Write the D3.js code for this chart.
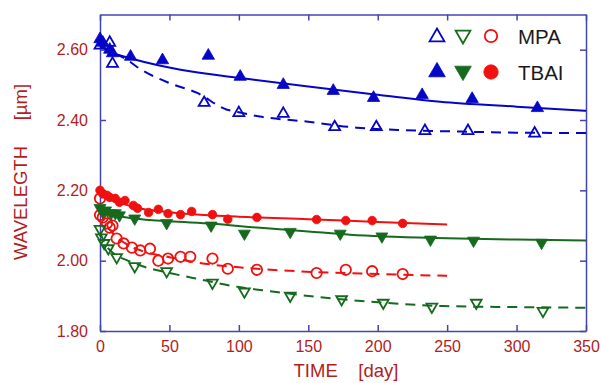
<!DOCTYPE html>
<html>
<head>
<meta charset="utf-8">
<script src="https://cdn.jsdelivr.net/npm/d3@7"></script>
<style>
  html, body { margin: 0; padding: 0; background: #fff; }
  svg { display: block; font-family: Arial, "Liberation Sans", sans-serif; }
</style>
</head>
<body>
<svg id="chart" width="601" height="383"></svg>
<script>
// Emission wavelength vs storage time, [day, µm]

// MPA-treated samples (open markers, dashed fits)
const mpaBlue = [[0,2.612],[7,2.62],[9,2.56],[75,2.449],[100,2.42],[132,2.418],[169,2.38],[199,2.38],[234,2.369],[265,2.369],[313,2.362]];
const mpaGreen = [[0,2.09],[1,2.066],[3,2.05],[6,2.035],[12,2.01],[25,1.984],[48,1.97],[81,1.937],[104,1.912],[137,1.9],[174,1.89],[204,1.88],[239,1.869],[271,1.88],[319,1.857]];
const mpaRed = [[0,2.177],[0,2.13],[2,2.123],[5,2.106],[7,2.094],[9,2.1],[12,2.063],[17,2.049],[23,2.037],[29,2.029],[36,2.034],[42,2.0],[49,2.006],[58,2.011],[65,2.011],[81,2.006],[92,1.977],[113,1.974],[156,1.965],[177,1.974],[196,1.97],[218,1.962]];

// TBAI-treated samples (filled markers, solid fits)
const tbaiBlue = [[0,2.63],[2,2.62],[7,2.60],[9,2.59],[22,2.58],[45,2.57],[78,2.583],[101,2.523],[132,2.50],[168,2.483],[197,2.463],[232,2.471],[268,2.46],[315,2.434]];
const tbaiGreen = [[0,2.15],[2,2.14],[4,2.143],[8,2.135],[11,2.135],[14,2.129],[25,2.12],[48,2.107],[80,2.10],[104,2.077],[137,2.082],[173,2.077],[203,2.069],[238,2.06],[269,2.057],[318,2.051]];
const tbaiRed = [[0,2.20],[2,2.19],[5,2.186],[7,2.18],[11,2.177],[14,2.166],[18,2.171],[24,2.157],[27,2.149],[35,2.137],[42,2.146],[49,2.134],[58,2.131],[66,2.14],[81,2.131],[92,2.118],[113,2.123],[156,2.117],[177,2.114],[196,2.114],[218,2.106]];

// Fitted curves
const fitMpaBlue = [[0,2.61],[10,2.59],[20,2.57],[27,2.55],[50,2.505],[70,2.477],[91,2.43],[100,2.422],[115,2.41],[150,2.395],[185,2.378],[220,2.371],[260,2.367],[300,2.364],[350,2.363]];
const fitTbaiBlue = [[0,2.61],[10,2.59],[25,2.572],[58,2.543],[100,2.52],[150,2.495],[200,2.472],[245,2.452],[300,2.438],[350,2.426]];
const fitMpaGreen = [[0,2.08],[5,2.04],[10,2.02],[20,2.0],[34,1.98],[50,1.965],[67,1.951],[100,1.925],[121,1.914],[156,1.897],[200,1.882],[247,1.871],[300,1.868],[350,1.866]];
const fitTbaiGreen = [[0,2.145],[10,2.13],[25,2.12],[50,2.112],[81,2.105],[113,2.094],[150,2.083],[180,2.074],[250,2.064],[300,2.06],[350,2.057]];
const fitMpaRed = [[0,2.14],[5,2.10],[10,2.075],[20,2.045],[30,2.028],[50,2.01],[71,1.994],[100,1.981],[137,1.971],[200,1.962],[250,1.957]];
const fitTbaiRed = [[0,2.195],[10,2.172],[25,2.152],[50,2.138],[100,2.125],[150,2.118],[200,2.11],[250,2.103]];

// Axis ticks and labels
const xTicks = [0, 50, 100, 150, 200, 250, 300, 350];
const yTicks = [1.80, 2.00, 2.20, 2.40, 2.60];
const xTitle = "TIME    [day]";
const yTitle = "WAVELEGTH     [\u00b5m]";
const legendLabels = ["MPA", "TBAI"];

const BLUE = "#0505c8", GREEN = "#166a1e", RED = "#f01010";
const FRAME = "#4444ae", TICKTXT = "#b01e1e";

const svg = d3.select("#chart");
const L = 100, R = 586, T = 14.5, B = 331;
const x = d3.scaleLinear().domain([0, 350]).range([L, R]);
const y = d3.scaleLinear().domain([1.8, 2.7]).range([B, T]);

// Frame with inward ticks on all four sides
const frame = svg.append("g");
frame.append("g").attr("transform", `translate(0,${B})`)
  .call(d3.axisBottom(x).tickValues(xTicks).tickSizeInner(-6).tickSizeOuter(0).tickPadding(10).tickFormat(d3.format("d")));
frame.append("g").attr("transform", `translate(0,${T})`)
  .call(d3.axisTop(x).tickValues(xTicks).tickSizeInner(-6).tickSizeOuter(0).tickFormat(""));
frame.append("g").attr("transform", `translate(${L},0)`)
  .call(d3.axisLeft(y).tickValues(yTicks).tickSizeInner(-6).tickSizeOuter(0).tickPadding(12).tickFormat(d3.format(".2f")));
frame.append("g").attr("transform", `translate(${R},0)`)
  .call(d3.axisRight(y).tickValues(yTicks).tickSizeInner(-6).tickSizeOuter(0).tickFormat(""));
frame.selectAll(".domain").attr("stroke", FRAME).attr("stroke-width", 1.5);
frame.selectAll(".tick line").attr("stroke", FRAME).attr("stroke-width", 1.5);
frame.selectAll(".tick text").attr("fill", TICKTXT).attr("font-size", 16)
  .attr("font-family", "Arial, 'Liberation Sans', sans-serif");

// Axis titles
svg.append("text").attr("x", 346).attr("y", 377).attr("text-anchor", "middle")
  .attr("font-size", 18.5).attr("fill", TICKTXT).style("white-space", "pre").text(xTitle);
svg.append("text").attr("transform", "translate(27,172) rotate(-90)").attr("text-anchor", "middle")
  .attr("font-size", 18.5).attr("fill", TICKTXT).style("white-space", "pre").text(yTitle);

// Fit lines
const line = d3.line().x(d => x(d[0])).y(d => y(d[1])).curve(d3.curveMonotoneX);
const fits = [
  [fitMpaBlue, BLUE, true], [fitTbaiBlue, BLUE, false],
  [fitMpaGreen, GREEN, true], [fitTbaiGreen, GREEN, false],
  [fitMpaRed, RED, true], [fitTbaiRed, RED, false]
];
svg.append("g").selectAll("path").data(fits).join("path")
  .attr("d", d => line(d[0])).attr("fill", "none").attr("stroke", d => d[1])
  .attr("stroke-width", 2).attr("stroke-dasharray", d => d[2] ? "10,7" : null);

// Marker shapes
const triUp = s => d3.symbol(d3.symbolTriangle, s)();
function marker(g, kind, color, filled, size) {
  let p;
  if (kind === "circle") {
    p = g.append("circle").attr("r", size);
  } else {
    p = g.append("path").attr("d", triUp(size));
    if (kind === "down") p.attr("transform", (p.attr("transform") || "") + " rotate(180)");
  }
  p.attr("fill", filled ? color : "none").attr("stroke", color).attr("stroke-width", filled ? 0.8 : 1.8);
}
function drawSeries(data, kind, color, filled, size) {
  const g = svg.append("g");
  data.forEach(d => {
    const m = g.append("g").attr("transform", `translate(${x(d[0])},${y(d[1])})`);
    marker(m, kind, color, filled, size);
  });
}
drawSeries(tbaiRed, "circle", RED, true, 4.3);
drawSeries(mpaRed, "circle", RED, false, 5.2);
drawSeries(tbaiGreen, "down", GREEN, true, 62);
drawSeries(mpaGreen, "down", GREEN, false, 50);
drawSeries(tbaiBlue, "up", BLUE, true, 66);
drawSeries(mpaBlue, "up", BLUE, false, 52);

// Legend
const lg = svg.append("g");
const rows = [
  {label: legendLabels[0], y: 36, filled: false},
  {label: legendLabels[1], y: 72, filled: true}
];
rows.forEach(r => {
  const a = lg.append("g").attr("transform", `translate(437,${r.y + (r.filled ? 0 : 1)})`);
  marker(a, "up", BLUE, r.filled, r.filled ? 120 : 95);
  const b = lg.append("g").attr("transform", `translate(463,${r.y - 1})`);
  marker(b, "down", GREEN, r.filled, r.filled ? 120 : 95);
  const c = lg.append("g").attr("transform", `translate(491,${r.y})`);
  marker(c, "circle", RED, r.filled, r.filled ? 7.2 : 6.2);
  lg.append("text").attr("x", 518).attr("y", r.y + 7.5).attr("font-size", 20.5)
    .attr("fill", "#1a1a1a").text(r.label);
});
</script>
</body>
</html>
